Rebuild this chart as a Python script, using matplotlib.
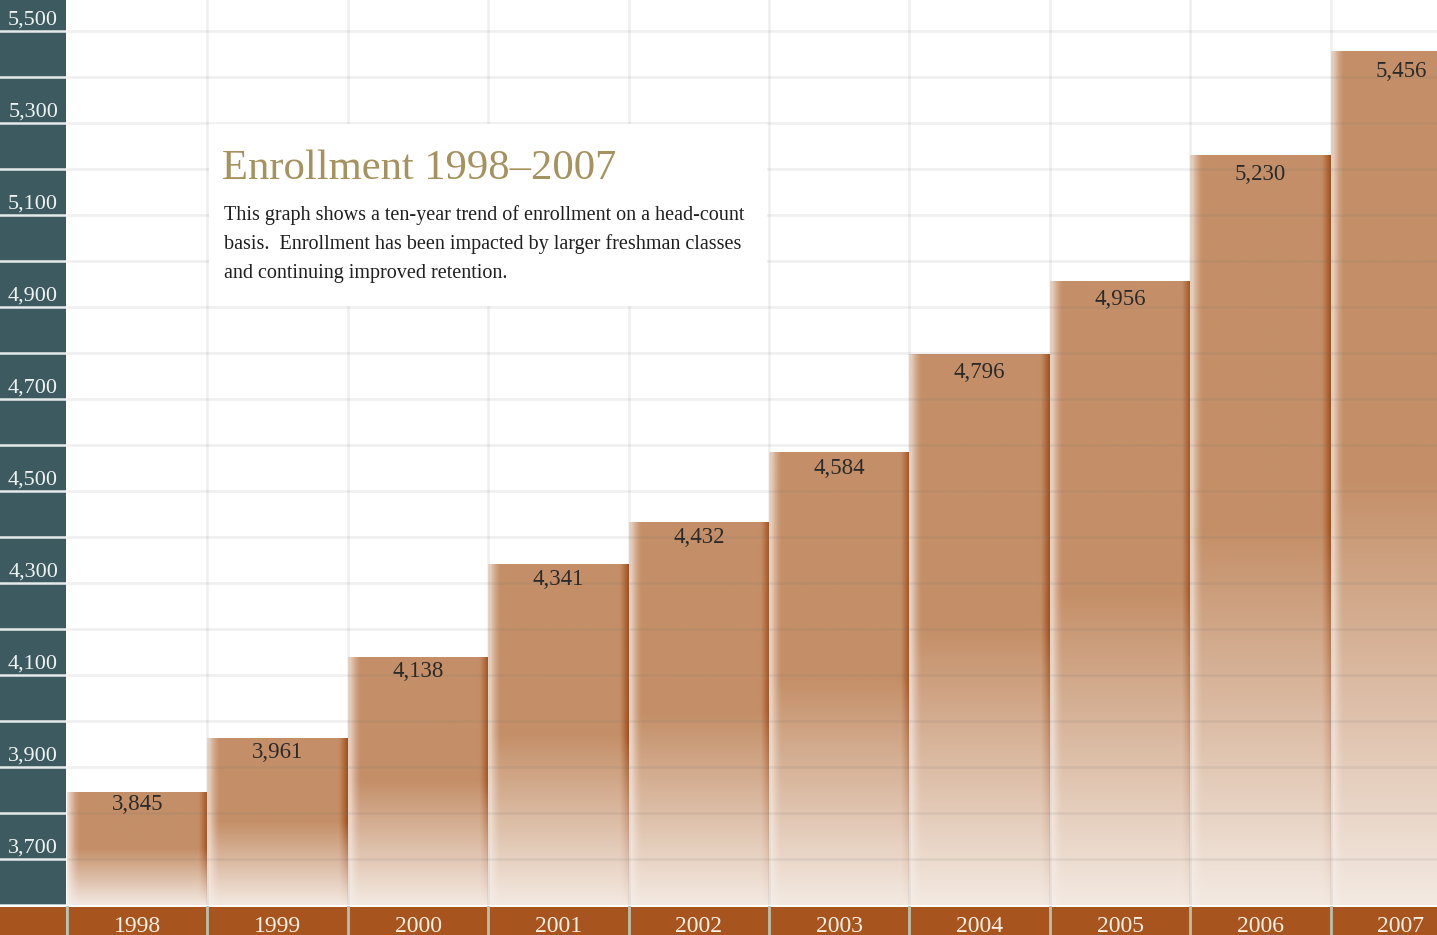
import numpy as np
import matplotlib.pyplot as plt
import matplotlib.transforms as mtransforms
from matplotlib.colors import to_rgb
from matplotlib.patches import Rectangle

# data
years = ['1998', '1999', '2000', '2001', '2002', '2003', '2004', '2005', '2006', '2007']
enrollment = [3845, 3961, 4138, 4341, 4432, 4584, 4796, 4956, 5230, 5456]
y_labels = [3700, 3900, 4100, 4300, 4500, 4700, 4900, 5100, 5300, 5500]
title = 'Enrollment 1998\u20132007'
blurb = ['This graph shows a ten-year trend of enrollment on a head-count',
         'basis.  Enrollment has been impacted by larger freshman classes',
         'and continuing improved retention.']

W, H = 1437, 935
SERIF = ['Liberation Serif', 'DejaVu Serif']
TEAL = '#3d5a61'
RUST = '#a8541e'
PX = 100 / 46  # data units per pixel

fig = plt.figure(figsize=(W / 100, H / 100), dpi=100)
fig.patch.set_facecolor('white')

# main plot area (px 67..1437 across, 0..905 down)
ax = fig.add_axes([67 / W, 30 / H, (W - 67) / W, 905 / H])
ax.set_axis_off()


def bar_gradient(nh=300, nw=140):
    base = np.array(to_rgb('#c48f68'))
    light = np.array(to_rgb('#f0e0d3'))
    dark = np.array(to_rgb('#a3501a'))
    pale = np.array(to_rgb('#f6eee8'))
    u = np.linspace(0, 1, nw)
    row = np.tile(base, (nw, 1))
    lw = np.clip(1 - u / 0.09, 0, 1)[:, None] ** 1.5
    row = row * (1 - lw) + light * lw
    rw = np.clip((u - 0.935) / 0.065, 0, 1)[:, None] ** 1.2
    row = row * (1 - rw) + dark * rw
    t = np.linspace(0, 1, nh)
    a = np.clip((1 - t) / 0.5, 0, 1)
    a = 0.05 + 0.95 * a
    img = row[None, :, :] * a[:, None, None] + pale[None, None, :] * (1 - a[:, None, None])
    return img


grad = bar_gradient()
lo, hi = min(enrollment), max(enrollment)
for i, v in enumerate(enrollment):
    ax.imshow(grad, extent=(i - 0.5, i + 0.5, 3600, v), aspect='auto',
              interpolation='bilinear', zorder=1)
    off = (18 + 8 * (v - lo) / (hi - lo)) * PX
    ax.text(i, v - off, f'{v:,}', ha='center', va='baseline', fontsize=16.5,
            family=SERIF, color='#2a2a2a', zorder=6)

ax.set_xlim(-0.5, -0.5 + (W - 67) / 140.4)
ax.set_ylim(3600, 3600 + 905 * PX)

# grid drawn on top, faint
for y in range(3700, 5600, 100):
    ax.axhline(y, color='#6f6f6f', alpha=0.11, lw=1.9, zorder=3)
for x in np.arange(0.5, 9.5, 1):
    ax.axvline(x, color='#6f6f6f', alpha=0.11, lw=1.9, zorder=3)

# text panel
ax.add_patch(Rectangle((0.5 + 0.012, 4900 + 3), 4 - 0.024, 400 - 6,
                       fc='white', ec='none', zorder=4))
ax.text(0.604, 5178, title, fontsize=30.7, family=SERIF, color='#a5925f',
        va='baseline', zorder=5)
for k, line in enumerate(blurb):
    ax.text(0.618, 5089 - k * 63, line, fontsize=14.5, family=SERIF,
            color='#1f1f1f', va='baseline', zorder=5)

# left teal column with y labels
lax = fig.add_axes([0, 30 / H, 66 / W, 905 / H], sharey=ax)
lax.set_facecolor(TEAL)
for s in lax.spines.values():
    s.set_visible(False)
lax.set_xticks([])
lax.tick_params(left=False, labelleft=False)
for y in range(3600, 5600, 100):
    lax.axhline(y, color='#e4eaea', lw=1.8)
blend = mtransforms.blended_transform_factory(lax.transAxes, lax.transData)
for y in y_labels:
    lax.text(0.88, y + 13, f'{y:,}', ha='right', va='baseline', fontsize=16,
             family=SERIF, color='#eef2f2', transform=blend)

# bottom strip with year labels
bax = fig.add_axes([67 / W, 0, (W - 67) / W, 28 / H], sharex=ax)
bax.set_facecolor(RUST)
for s in bax.spines.values():
    s.set_visible(False)
bax.set_yticks([])
bax.tick_params(bottom=False, labelbottom=False)
bax.set_ylim(0, 1)
for x in np.arange(-0.5, 9.5, 1):
    bax.axvline(x, color='#b8bfae', lw=2, clip_on=False)
bblend = mtransforms.blended_transform_factory(bax.transData, bax.transAxes)
for i, yr in enumerate(years):
    bax.text(i, 0.1, yr, ha='center', va='baseline', fontsize=17, family=SERIF,
             color='#f8f0e4', transform=bblend)
fig.patches.append(Rectangle((0, 0), 66 / W, 28 / H, transform=fig.transFigure,
                             fc=RUST, ec='none', zorder=0))

fig.savefig('out.png', dpi=100, facecolor='white')
